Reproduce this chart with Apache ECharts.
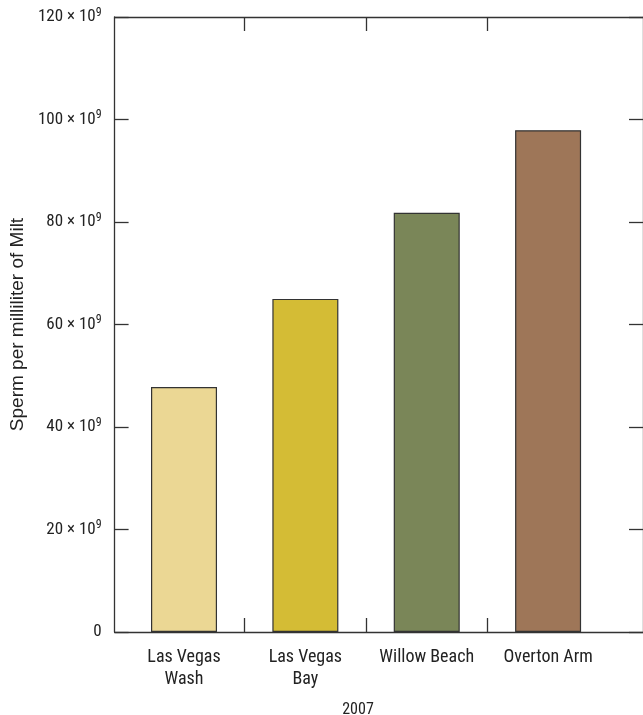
<!DOCTYPE html>
<html>
<head>
<meta charset="utf-8">
<script src="https://cdn.jsdelivr.net/npm/echarts@6/dist/echarts.min.js"></script>
<style>
  html, body { margin: 0; padding: 0; background: #fff; }
  #main { width: 643px; height: 715px; }
</style>
</head>
<body>
<div id="main"></div>
<script>
// data
var sites = ['Las Vegas\nWash', 'Las Vegas\nBay', 'Willow Beach', 'Overton Arm'];
var spermCount = [47.8, 65.0, 81.8, 97.9];   // x 10^9 per milliliter
var barColors = ['#ebd794', '#d4bc35', '#7a8658', '#9e7658'];
var yTicks = [0, 20, 40, 60, 80, 100, 120];
var yearLabel = '2007';

var font = '"Liberation Sans Narrow", "Roboto Condensed", "Liberation Sans", sans-serif';
var wideFont = '"Liberation Sans", Arial, sans-serif';
var ink = '#222';
var axisColor = '#333';

var chart = echarts.init(document.getElementById('main'));

// site positions on the x scale: 1..n, boundaries at the half steps
var xPos = sites.map(function (s, i) { return i + 1; });
var bounds = xPos.slice(1).map(function (v) { return v - 0.5; });

var frameAxis = {
  type: 'value',
  min: 0.428,
  max: 4.782,
  splitLine: { show: false },
  axisLine: { show: true, onZero: false, lineStyle: { color: axisColor, width: 1.3 } },
  axisTick: { show: true, inside: true, length: 14, customValues: bounds, lineStyle: { color: axisColor, width: 1.3 } }
};

var option = {
  animation: false,
  textStyle: { fontFamily: font },
  grid: { left: 114, right: 0, top: 17, bottom: 83 },
  title: {
    text: yearLabel,
    left: 353,
    top: 697,
    textAlign: 'center',
    textStyle: { fontFamily: font, fontSize: 16, fontWeight: 'normal', color: ink }
  },
  xAxis: [
    Object.assign({}, frameAxis, {
      position: 'bottom',
      axisLabel: {
        customValues: xPos,
        margin: 14,
        fontFamily: font,
        fontSize: 18,
        lineHeight: 22,
        color: ink,
        formatter: function (v) { return sites[Math.round(v) - 1] || ''; }
      }
    }),
    Object.assign({}, frameAxis, {
      position: 'top',
      axisLabel: { show: false }
    })
  ],
  yAxis: [
    {
      type: 'value',
      min: yTicks[0],
      max: yTicks[yTicks.length - 1],
      interval: yTicks[1] - yTicks[0],
      position: 'left',
      name: 'Sperm per milliliter of Milt',
      nameLocation: 'middle',
      nameGap: 84,
      nameTextStyle: { fontFamily: wideFont, fontSize: 19, color: ink },
      splitLine: { show: false },
      axisLine: { show: true, lineStyle: { color: axisColor, width: 1.3 } },
      axisTick: { show: true, inside: true, length: 14, lineStyle: { color: axisColor, width: 1.3 } },
      axisLabel: {
        margin: 13,
        color: ink,
        formatter: function (v) {
          return v === 0 ? '{a|0}' : '{a|' + v + ' \u00d7 10}{s|9}';
        },
        rich: {
          a: { fontFamily: font, fontSize: 17, color: ink },
          s: { fontFamily: font, fontSize: 12, color: ink, padding: [0, 0, 9, 0] }
        }
      }
    },
    {
      type: 'value',
      min: yTicks[0],
      max: yTicks[yTicks.length - 1],
      interval: yTicks[1] - yTicks[0],
      position: 'right',
      splitLine: { show: false },
      axisLine: { show: true, lineStyle: { color: axisColor, width: 1.3 } },
      axisTick: { show: true, inside: true, length: 14, lineStyle: { color: axisColor, width: 1.3 } },
      axisLabel: { show: false }
    }
  ],
  series: [
    {
      type: 'bar',
      xAxisIndex: 0,
      yAxisIndex: 0,
      barWidth: 66,
      data: spermCount.map(function (v, i) {
        return {
          value: [xPos[i], v],
          itemStyle: { color: barColors[i], borderColor: '#333', borderWidth: 1.2 }
        };
      })
    }
  ]
};

chart.setOption(option);
</script>
</body>
</html>
